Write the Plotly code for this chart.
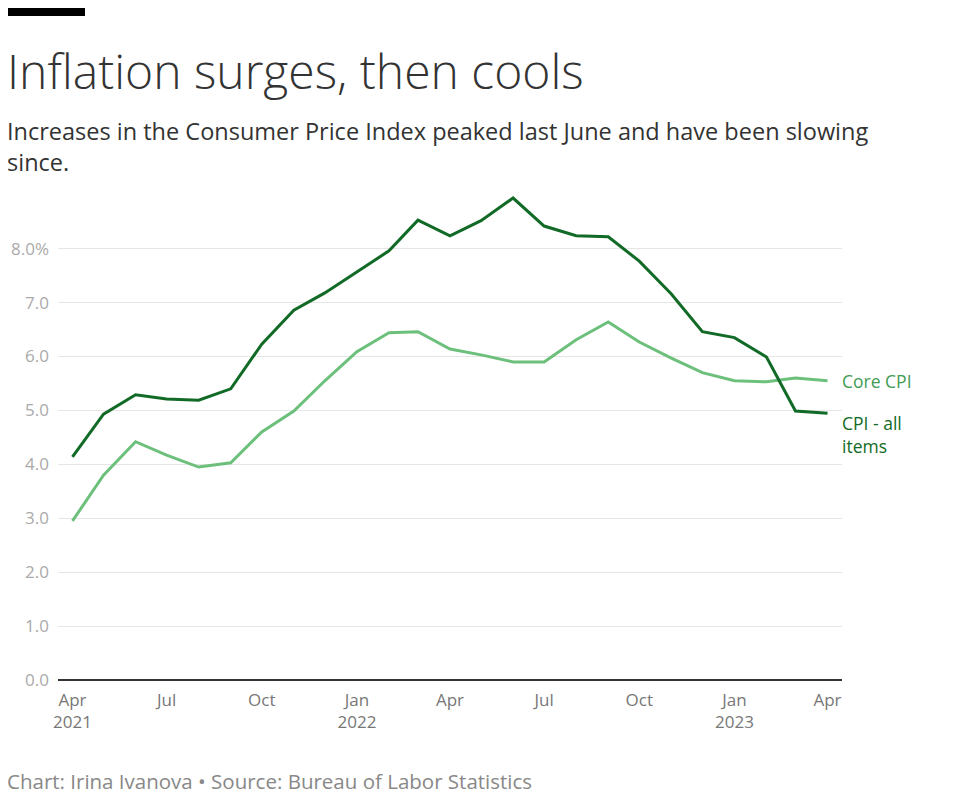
import pandas as pd
import plotly.graph_objects as go

months = pd.date_range('2021-04-01', '2023-04-01', freq='MS')

# year-over-year % change
cpi_all = [4.14, 4.93, 5.29, 5.21, 5.19, 5.40, 6.23, 6.86, 7.18, 7.57, 7.96, 8.53,
           8.24, 8.52, 8.94, 8.42, 8.24, 8.22, 7.77, 7.16, 6.46, 6.35, 5.99, 4.99, 4.95]
core_cpi = [2.95, 3.80, 4.42, 4.17, 3.95, 4.03, 4.60, 4.99, 5.55, 6.09, 6.44, 6.46,
            6.14, 6.03, 5.90, 5.90, 6.31, 6.64, 6.27, 5.97, 5.70, 5.55, 5.53, 5.60, 5.55]

tick_dates = ['2021-04-01', '2021-07-01', '2021-10-01', '2022-01-01', '2022-04-01',
              '2022-07-01', '2022-10-01', '2023-01-01', '2023-04-01']
tick_text = ['Apr<br>2021', 'Jul', 'Oct', 'Jan<br>2022', 'Apr', 'Jul', 'Oct', 'Jan<br>2023', 'Apr']
y_ticks = [0, 1, 2, 3, 4, 5, 6, 7, 8]
y_text = ['0.0', '1.0', '2.0', '3.0', '4.0', '5.0', '6.0', '7.0', '8.0%']

dark_green = '#116a26'
light_green = '#6cc07b'
font = 'Open Sans'

# plot area is 784 x 496 px
pw, ph = 784, 496

fig = go.Figure()
fig.add_trace(go.Scatter(x=months, y=core_cpi, mode='lines', name='Core CPI',
                         line=dict(color=light_green, width=3)))
fig.add_trace(go.Scatter(x=months, y=cpi_all, mode='lines', name='CPI - all items',
                         line=dict(color=dark_green, width=3)))

fig.update_layout(
    width=952,
    height=795,
    autosize=False,
    showlegend=False,
    plot_bgcolor='white',
    paper_bgcolor='white',
    margin=dict(l=50, r=118, t=176, b=123),
    font=dict(family=font, color='#333333'),
    xaxis=dict(
        range=['2021-03-18', '2023-04-15'],
        tickvals=tick_dates,
        ticktext=tick_text,
        tickfont=dict(size=17, color='#777777'),
        showgrid=False,
        ticks='',
        zeroline=False,
        showline=False,
        automargin=False,
        ticklabelstandoff=8,
    ),
    yaxis=dict(
        range=[0, 9.2],
        tickvals=y_ticks,
        ticktext=y_text,
        tickfont=dict(size=17, color='#aaaaaa'),
        gridcolor='#e6e6e6',
        gridwidth=1,
        zeroline=True,
        zerolinecolor='#333333',
        zerolinewidth=2,
        ticks='',
        automargin=False,
        ticklabelstandoff=8,
    ),
)

# black bar at the top left
fig.add_shape(type='rect', xref='paper', yref='paper',
              x0=-50 / pw, x1=27 / pw, y0=1 + (184 - 16) / ph, y1=1 + (184 - 8) / ph,
              fillcolor='black', line=dict(width=0))

fig.add_annotation(text='Inflation surges, then cools', xref='paper', yref='paper',
                   x=-53 / pw, y=1 + (184 - 70) / ph, xanchor='left', yanchor='middle',
                   showarrow=False, font=dict(size=48, color='#333333', family=font, weight=300))
fig.add_annotation(text='Increases in the Consumer Price Index peaked last June and have been slowing<br>since.',
                   xref='paper', yref='paper', x=-53 / pw, y=1 + (184 - 147) / ph,
                   xanchor='left', yanchor='middle', align='left', showarrow=False,
                   font=dict(size=23.5, color='#333333', family=font))
fig.add_annotation(text='Chart: Irina Ivanova • Source: Bureau of Labor Statistics',
                   xref='paper', yref='paper', x=-53 / pw, y=-(781 - 680) / ph,
                   xanchor='left', yanchor='middle', showarrow=False,
                   font=dict(size=20.5, color='#888888', family=font))

# direct labels at line ends
fig.add_annotation(text='Core CPI', x=months[-1], y=core_cpi[-1], xshift=12,
                   xanchor='left', yanchor='middle', showarrow=False,
                   font=dict(size=17.5, color='#3f9c55', family=font))
fig.add_annotation(text='CPI - all<br>items', x=months[-1], y=cpi_all[-1], xshift=12, yshift=4,
                   xanchor='left', yanchor='top', align='left', showarrow=False,
                   font=dict(size=17.5, color=dark_green, family=font))

fig.write_html('out.html')
